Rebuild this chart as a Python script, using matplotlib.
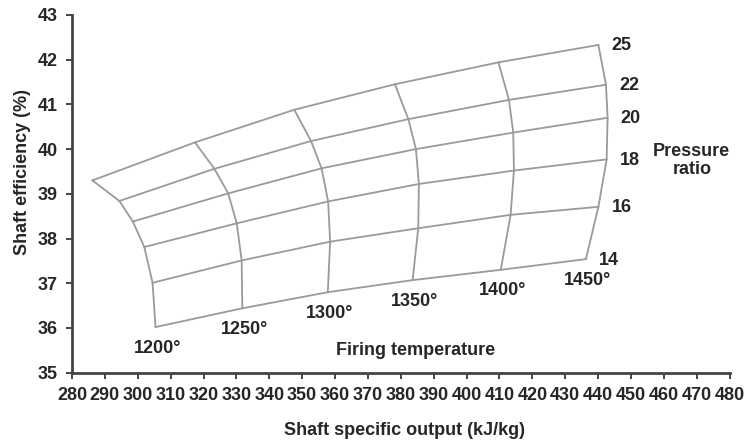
import numpy as np
import matplotlib.pyplot as plt

# firing temperatures (rows) and pressure ratios (columns)
temps = [1200, 1250, 1300, 1350, 1400, 1450]
ratios = [25, 22, 20, 18, 16, 14]

# shaft specific output (kJ/kg) at each node
output_kj = [
    [286.2, 294.4, 298.5, 302.0, 304.5, 305.4],
    [317.4, 323.3, 327.5, 330.1, 331.6, 331.8],
    [347.6, 352.7, 355.9, 357.9, 358.5, 357.8],
    [378.2, 382.3, 384.6, 385.5, 385.3, 383.6],
    [409.7, 412.9, 414.2, 414.4, 413.4, 410.4],
    [440.1, 442.4, 442.9, 442.6, 440.1, 436.3],
]

# shaft efficiency (%) at each node
efficiency = [
    [39.30, 38.84, 38.38, 37.81, 37.01, 36.02],
    [40.15, 39.56, 39.01, 38.34, 37.51, 36.44],
    [40.88, 40.18, 39.57, 38.83, 37.93, 36.80],
    [41.45, 40.67, 40.00, 39.22, 38.23, 37.07],
    [41.94, 41.10, 40.37, 39.52, 38.53, 37.30],
    [42.33, 41.44, 40.70, 39.77, 38.71, 37.54],
]

x_ticks = list(range(280, 481, 10))
y_ticks = list(range(35, 44))

plt.rcParams['font.family'] = ['Liberation Sans Narrow', 'Liberation Sans', 'DejaVu Sans']
plt.rcParams['font.weight'] = 'bold'
plt.rcParams['font.size'] = 13

X = np.array(output_kj)
Y = np.array(efficiency)

fig = plt.figure(figsize=(7.47, 4.40), dpi=100)
ax = fig.add_axes([0.0964, 0.153, 0.8803, 0.813])

line_col = '#9a9a9a'
text_col = '#262626'

# constant pressure ratio lines
for j in range(len(ratios)):
    ax.plot(X[:, j], Y[:, j], color=line_col, lw=1.3, solid_joinstyle='round')
# constant firing temperature lines
for i in range(len(temps)):
    ax.plot(X[i, :], Y[i, :], color=line_col, lw=1.3, solid_joinstyle='round')

# temperature labels under the bottom row
for i, t in enumerate(temps):
    ax.annotate('%d°' % t, (X[i, -1], Y[i, -1]), xytext=(2, -21),
                textcoords='offset pixels', ha='center', va='center',
                color=text_col)

# pressure ratio labels on the right
for j, r in enumerate(ratios):
    ax.annotate(str(r), (X[-1, j], Y[-1, j]), xytext=(23, -1),
                textcoords='offset pixels', ha='center', va='center',
                color=text_col)

ax.text(468.5, 39.75, 'Pressure\nratio', ha='center', va='center',
        color=text_col, linespacing=1.1)
ax.text(384.5, 35.5, 'Firing temperature', ha='center', va='center',
        color=text_col)

ax.set_xlim(280, 480)
ax.set_ylim(35, 43)
ax.set_xticks(x_ticks)
ax.set_yticks(y_ticks)
ax.tick_params(direction='out', length=4, width=1.4, color='#444444',
               labelcolor=text_col, pad=6)
for side in ['top', 'right']:
    ax.spines[side].set_visible(False)
for side in ['left', 'bottom']:
    ax.spines[side].set_color('#444444')
    ax.spines[side].set_linewidth(2)

fig.text(405 / 747, 1 - 430 / 440, 'Shaft specific output (kJ/kg)',
         ha='center', va='center', color=text_col)
fig.text(23 / 747, 1 - 172 / 440, 'Shaft efficiency (%)', rotation=90,
         ha='center', va='center', color=text_col)

fig.savefig('out.png', dpi=100, facecolor='white')
